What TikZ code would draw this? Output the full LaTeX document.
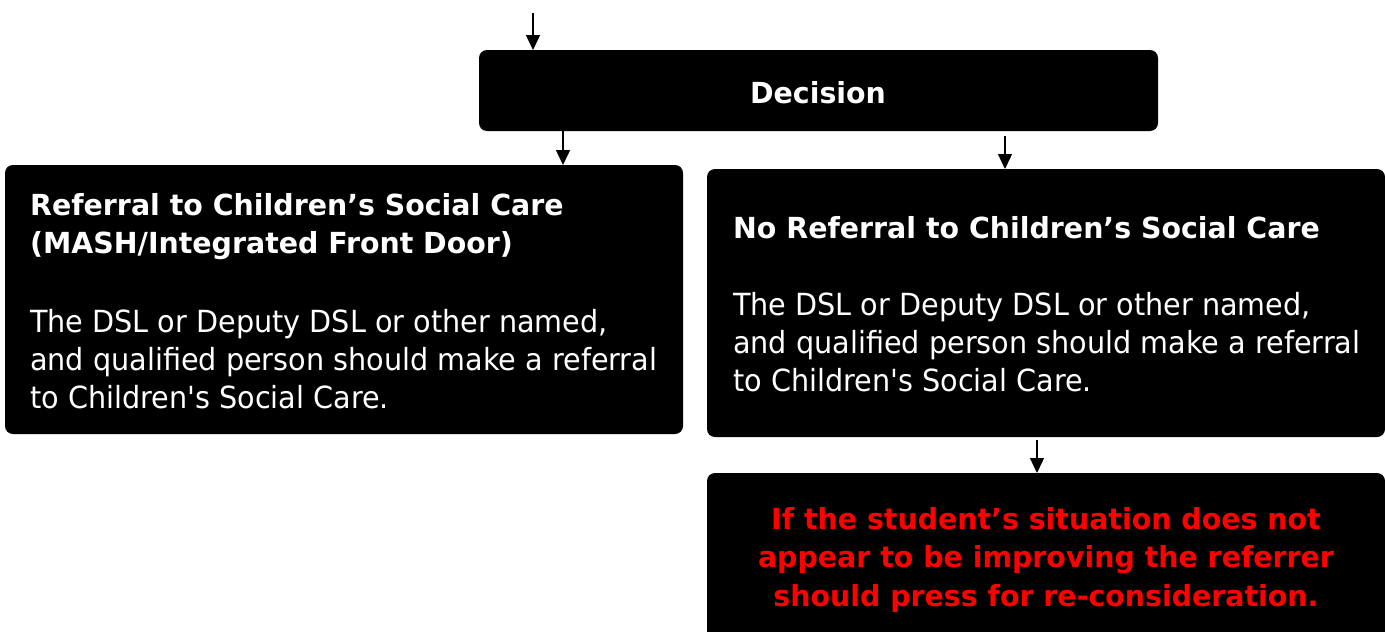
\documentclass[tikz,border=0pt]{standalone}
\usepackage{fontspec}
\setmainfont{DejaVu Sans}[Ligatures=TeXOff,UprightFeatures={FakeStretch=0.94},BoldFeatures={FakeStretch=0.98}]
\usetikzlibrary{arrows.meta}
\begin{document}
\begin{tikzpicture}[x=1pt,y=-1pt,
  box/.style={fill=black,rounded corners=8pt,draw=none},
  arr/.style={line width=1.4pt,-{Triangle[width=14pt,length=15pt]}},
  txt/.style={text=white,inner sep=0pt,font=\fontsize{30.5}{38}\selectfont},
  btxt/.style={text=white,inner sep=0pt,font=\fontsize{29}{38}\selectfont\bfseries},
  rtxt/.style={text=red,inner sep=0pt,font=\fontsize{29}{38}\selectfont\bfseries}]
\useasboundingbox (0,0) rectangle (1385,632);
\fill[white] (0,0) rectangle (1385,632);
% boxes
\path[box] (479,50) rectangle (1158,131);
\node[inner sep=0pt,minimum width=679pt,minimum height=81pt,anchor=north west] (dec) at (479,50) {};
\path[box] (5,165) rectangle (683,434);
\node[inner sep=0pt,minimum width=678pt,minimum height=269pt,anchor=north west] (lbox) at (5,165) {};
\path[box] (707,169) rectangle (1385,437);
\node[inner sep=0pt,minimum width=678pt,minimum height=268pt,anchor=north west] (rbox) at (707,169) {};
\path[box] (707,473) rectangle (1385,660);
\node[inner sep=0pt,minimum width=678pt,minimum height=187pt,anchor=north west] (bbox) at (707,473) {};
% arrows
\coordinate (start) at (533,13);
\draw[arr] (start) -- (start |- dec.north);
\draw[arr] ([xshift=84pt]dec.south west) -- ([xshift=84pt]dec.south west |- lbox.north);
\coordinate (rstart) at (1005,136);
\draw[arr] (rstart) -- (rstart |- rbox.north);
\coordinate (bstart) at (1037,440);
\draw[arr] (bstart) -- (bstart |- bbox.north);
% texts
\node[btxt,anchor=base] (dect) at (818,103) {Decision};
\node[btxt,anchor=base west] (lt1) at (30,215) {Referral to Children’s Social Care};
\node[btxt,anchor=base west] (lt2) at (30,253) {(MASH/Integrated Front Door)};
\node[txt,anchor=base west] (lb1) at (30,332) {The DSL or Deputy DSL or other named,};
\node[txt,anchor=base west] (lb2) at (30,370) {and qualified person should make a referral};
\node[txt,anchor=base west] (lb3) at (30,408) {to Children's Social Care.};
\node[btxt,anchor=base west] (rt1) at (733,238) {No Referral to Children’s Social Care};
\node[txt,anchor=base west] (rb1) at (733,315) {The DSL or Deputy DSL or other named,};
\node[txt,anchor=base west] (rb2) at (733,353) {and qualified person should make a referral};
\node[txt,anchor=base west] (rb3) at (733,391) {to Children's Social Care.};
\node[rtxt,anchor=base] (bt1) at (1046,529) {If the student’s situation does not};
\node[rtxt,anchor=base] (bt2) at (1046,567) {appear to be improving the referrer};
\node[rtxt,anchor=base] (bt3) at (1046,606) {should press for re-consideration.};
\end{tikzpicture}
\end{document}
